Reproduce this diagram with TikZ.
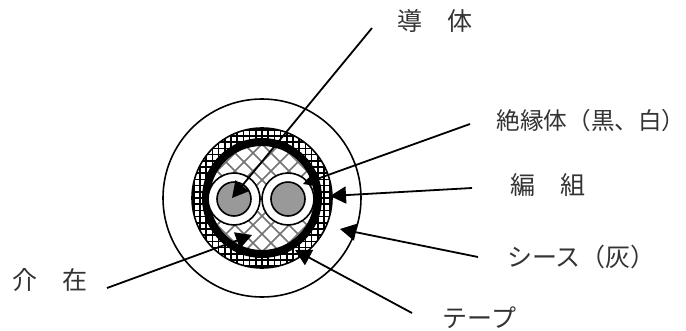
\documentclass[tikz,border=0pt]{standalone}
\usepackage{fontspec}
\setmainfont{Noto Sans CJK JP}
\usetikzlibrary{arrows.meta}
\definecolor{core}{gray}{0.6}
\definecolor{fillerline}{gray}{0.45}
\tikzset{
  x=1pt,y=-1pt,
  lbl/.style={inner sep=0pt,font=\fontsize{25}{27}\selectfont,text=black!80},
  lead/.style={line width=1.8pt,-{Triangle[length=16pt,width=17pt]}},
  ringline/.style={draw=black,line width=1.6pt}
}
\begin{document}
\begin{tikzpicture}
\useasboundingbox (0,0) rectangle (686,330);
\coordinate (C) at (262,198);
\coordinate (L) at (234,199);
\coordinate (R) at (288,199);
% sheath
\draw[ringline,fill=white] (C) circle[radius=99];
% braid
\begin{scope}
  \clip (C) circle[radius=70];
  \fill[white] (C) circle[radius=70];
  \foreach \i in {-12,...,12}{
    \draw[line width=1.7pt,black] (262+\i*6.2,120) -- (262+\i*6.2,280);
    \draw[line width=1.7pt,black] (180,198+\i*6.2) -- (340,198+\i*6.2);
  }
\end{scope}
\draw[ringline] (C) circle[radius=70];
% filler
\fill[white] (C) circle[radius=57];
\begin{scope}
  \clip (C) circle[radius=57];
  \foreach \i in {-12,...,12}{
    \draw[line width=1.6pt,fillerline] (262+\i*18-80,198-80) -- (262+\i*18+80,198+80);
    \draw[line width=1.6pt,fillerline] (262+\i*18+80,198-80) -- (262+\i*18-80,198+80);
  }
\end{scope}
% tape
\draw[line width=8pt,black] (C) circle[radius=56];
% insulated conductors
\draw[ringline,fill=white] (L) circle[radius=26];
\draw[ringline,fill=white] (R) circle[radius=26];
\draw[ringline,fill=core] (L) circle[radius=17];
\draw[ringline,fill=core] (R) circle[radius=17];
% labels
\node[lbl] (conductor) at (434.5,21) {導　体};
\node[lbl,anchor=west,font=\fontsize{23.6}{26}\selectfont] (insulation) at (496.5,121) {絶縁体（黒、白）};
\node[lbl] (braid) at (548,185) {編　組};
\node[lbl,anchor=west] (sheath) at (507,257) {シース（灰）};
\node[lbl] (tape) at (479.5,318) {テープ};
\node[lbl] (filler) at (50,280) {介　在};
% leader ends
\coordinate (a0) at (372,28);  \coordinate (a1) at (232,198);
\coordinate (b0) at (470,124); \coordinate (b1) at (303,184);
\coordinate (c0) at (472,188); \coordinate (c1) at (330,196);
\coordinate (d0) at (478,257); \coordinate (d1) at (340,229);
\coordinate (e0) at (412,313); \coordinate (e1) at (295,250);
\coordinate (f0) at (107,288); \coordinate (f1) at (252,235);
\foreach \s/\t in {a0/a1,b0/b1,c0/c1,d0/d1,e0/e1,f0/f1}
  \draw[lead] (\s) -- (\t);
\end{tikzpicture}
\end{document}
